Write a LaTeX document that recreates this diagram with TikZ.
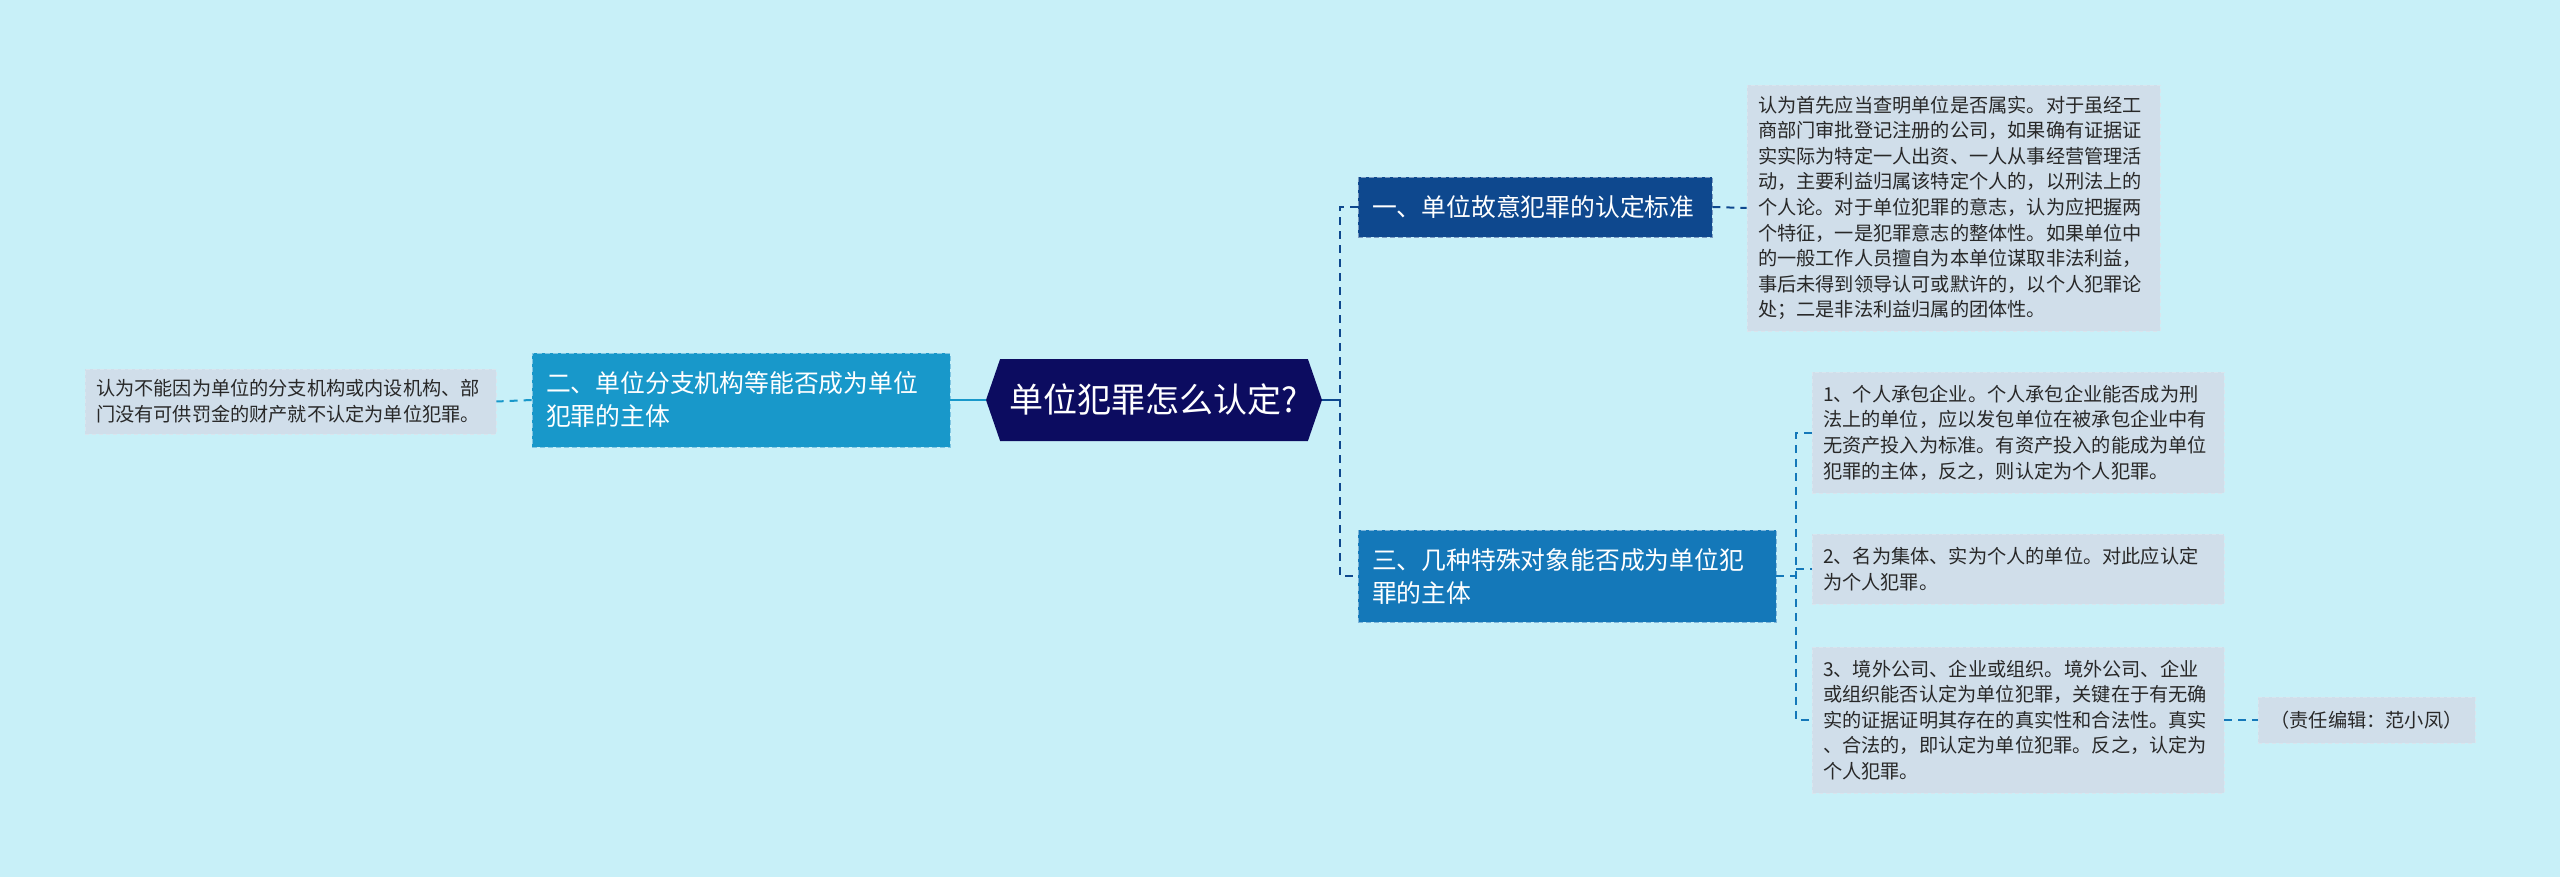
\documentclass[tikz,border=0pt]{standalone}
\usepackage{fontspec}
\setmainfont{Noto Sans CJK SC}
\usepackage{xcolor}
\usepackage{tikz}
\usetikzlibrary{calc,positioning,shapes.symbols}
\definecolor{SkyBack}{RGB}{200,240,248}
\definecolor{RootNavy}{RGB}{12,12,96}
\definecolor{BranchDeep}{RGB}{14,72,142}
\definecolor{BranchMid}{RGB}{20,120,185}
\definecolor{BranchLight}{RGB}{24,152,202}
\definecolor{LeafFill}{RGB}{208,222,234}
\definecolor{LeafInk}{RGB}{40,40,40}

\begin{document}
\begin{tikzpicture}[x=0.5pt, y=-0.5pt,
    leafbox/.style={fill=LeafFill, draw=LeafFill!80!white, dash pattern=on 2pt off 1.5pt, text=LeafInk, align=left, inner xsep=5.5pt, inner ysep=0pt, font=\fontsize{9.6}{12.8}\selectfont},
    branchbox/.style={draw=#1!55!white, fill=#1, dash pattern=on 2.5pt off 1.5pt, text=white, align=left, inner xsep=7pt, inner ysep=0pt, font=\fontsize{12.4}{16.5}\selectfont},
    linkdash/.style={draw=#1, line width=1pt, dash pattern=on 4pt off 3pt}]
    % Canvas
    \fill[SkyBack] (0,0) rectangle (2560,877);
    \useasboundingbox (0,0) rectangle (2560,877);

    % Central topic
    \node[shape=signal, signal to=east and west, signal pointer angle=142, minimum width=168pt, minimum height=41pt, inner sep=0pt, fill=RootNavy, text=white, font=\fontsize{17}{20}\selectfont] (root) at (1154,400) {单位犯罪怎么认定?};

    % Main branches
    \node[branchbox=BranchDeep, text width=163pt, minimum height=30pt] (standard) at (1535,207) {一、单位故意犯罪的认定标准};
    \node[branchbox=BranchLight, text width=195pt, minimum height=47pt] (branchunit) at (741,400) {二、单位分支机构等能否成为单位\\犯罪的主体};
    \node[branchbox=BranchMid, text width=195pt, minimum height=46pt] (special) at (1567,576) {三、几种特殊对象能否成为单位犯\\罪的主体};

    % Detail boxes
    \node[leafbox, text width=195.5pt, minimum height=123pt] (intent) at (1953.5,208) {认为首先应当查明单位是否属实。对于虽经工\\商部门审批登记注册的公司，如果确有证据证\\实实际为特定一人出资、一人从事经营管理活\\动，主要利益归属该特定个人的，以刑法上的\\个人论。对于单位犯罪的意志，认为应把握两\\个特征，一是犯罪意志的整体性。如果单位中\\的一般工作人员擅自为本单位谋取非法利益，\\事后未得到领导认可或默许的，以个人犯罪论\\处；二是非法利益归属的团体性。};
    \node[leafbox, text width=194.5pt, minimum height=32.5pt] (property) at (290.5,401.5) {认为不能因为单位的分支机构或内设机构、部\\门没有可供罚金的财产就不认定为单位犯罪。};
    \node[leafbox, text width=195pt, minimum height=60.5pt] (contract) at (2018,432.5) {1、个人承包企业。个人承包企业能否成为刑\\法上的单位，应以发包单位在被承包企业中有\\无资产投入为标准。有资产投入的能成为单位\\犯罪的主体，反之，则认定为个人犯罪。};
    \node[leafbox, text width=195pt, minimum height=35pt] (collective) at (2018,569) {2、名为集体、实为个人的单位。对此应认定\\为个人犯罪。};
    \node[leafbox, text width=195pt, minimum height=73pt] (foreign) at (2018,720) {3、境外公司、企业或组织。境外公司、企业\\或组织能否认定为单位犯罪，关键在于有无确\\实的证据证明其存在的真实性和合法性。真实\\、合法的，即认定为单位犯罪。反之，认定为\\个人犯罪。};
    \node[leafbox, align=center, minimum width=108.5pt, minimum height=23pt] (editor) at (2366.5,720) {（责任编辑：范小凤）};

    % Connectors
    \coordinate (rjoin) at (1340,400);
    \coordinate (sjoin) at (1796,576);
    \draw[BranchDeep, line width=1pt] (root.east) -- (rjoin);
    \draw[linkdash=BranchDeep] (standard.west) -| (rjoin) |- (special.west);
    \draw[BranchLight, line width=1pt] (root.west) -- (branchunit.east);
    \draw[linkdash=BranchLight] (branchunit.west) -- (property.east);
    \draw[linkdash=BranchDeep] (standard.east) -- (intent.west);
    \draw[linkdash=BranchMid] (special.east) -- (sjoin);
    \draw[linkdash=BranchMid] (contract.west) -| (sjoin) |- (foreign.west);
    \draw[linkdash=BranchMid] (sjoin |- collective.west) -- (collective.west);
    \draw[linkdash=BranchMid] (foreign.east) -- (editor.west);
\end{tikzpicture}
\end{document}
